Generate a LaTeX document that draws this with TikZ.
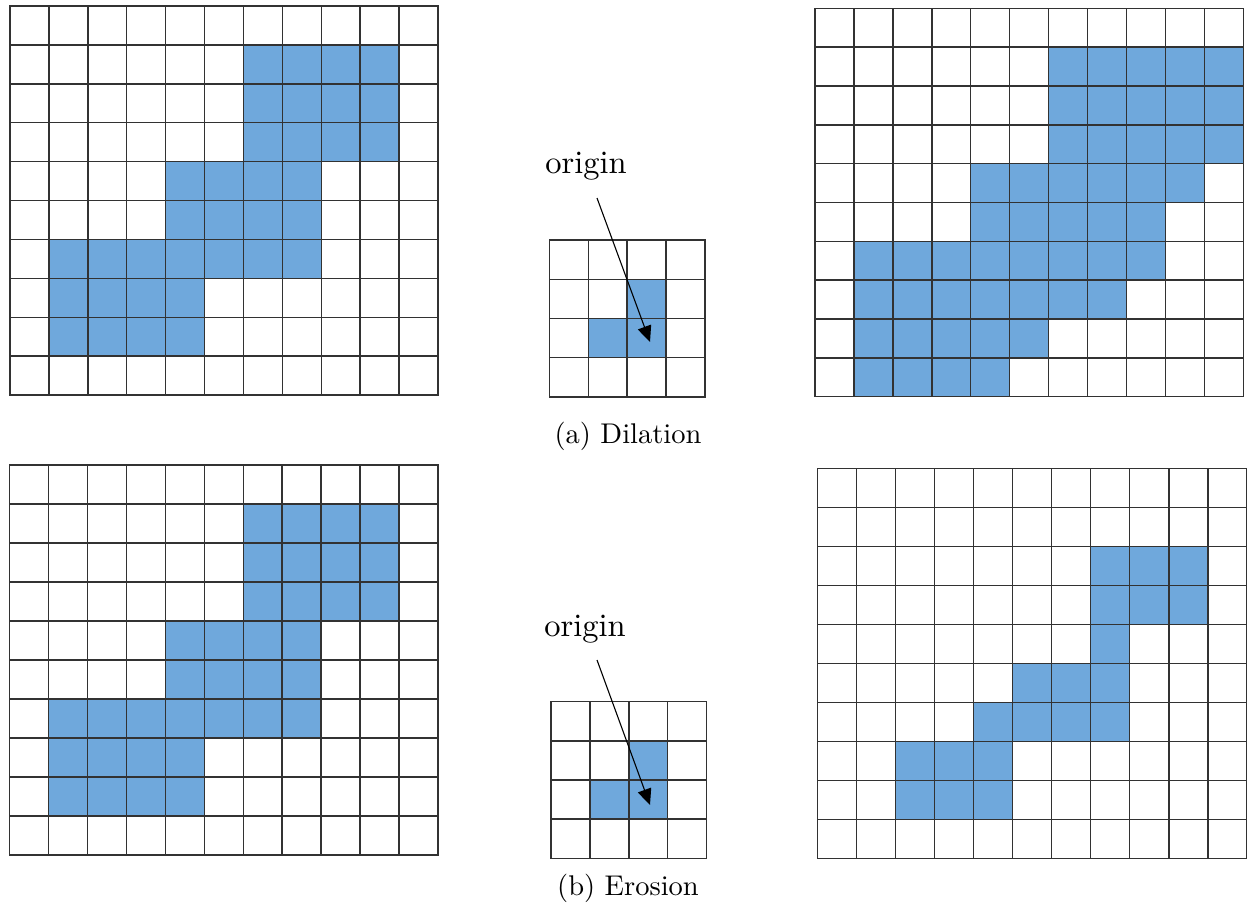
\documentclass[tikz,border=0pt]{standalone}
\usetikzlibrary{arrows.meta}
\definecolor{cellblue}{RGB}{111,168,220}
\definecolor{gridgray}{RGB}{50,50,50}
\newcommand\cellgrid[2]{%
  \foreach \i in {0,...,#1} \draw[gridline] (\i,0) -- (\i,#2);
  \foreach \j in {0,...,#2} \draw[gridline] (0,\j) -- (#1,\j);}
\begin{document}
\begin{tikzpicture}[x=1pt,y=-1pt,
  gridline/.style={draw=gridgray,line width=1.4pt,line cap=rect},
  cell/.style={fill=cellblue},
  origintext/.style={anchor=base,inner sep=0pt},
  captext/.style={anchor=base,inner sep=0pt},
  arr/.style={draw=black,line width=1.1pt,-{Triangle[length=16pt,width=14pt]}}]
\fill[white] (0,0) rectangle (1247,913);
\useasboundingbox (0,0) rectangle (1247,913);

% ---------- (a) Dilation ----------
\begin{scope}[shift={(10,6)},x=38.9pt,y=-38.9pt]
  \fill[cell] (6,1) rectangle (10,4) (4,4) rectangle (8,7) (1,6) rectangle (5,9);
  \cellgrid{11}{10}
\end{scope}
\begin{scope}[shift={(549.3,240)},x=38.9pt,y=-39.2pt]
  \fill[cell] (2,1) rectangle (3,2) (1,2) rectangle (3,3);
  \cellgrid{4}{4}
\end{scope}
\begin{scope}[shift={(815,8.3)},x=38.94pt,y=-38.84pt]
  \fill[cell] (6,1) rectangle (11,4) (4,4) rectangle (10,5) (4,5) rectangle (9,6)
              (1,6) rectangle (9,7) (1,7) rectangle (8,8) (1,8) rectangle (6,9)
              (1,9) rectangle (5,10);
  \cellgrid{11}{10}
\end{scope}
\node[origintext] (origa) at (586,173.3) {\scalebox{3.25}{origin}};
\coordinate (arrowa-start) at (597,198);
\coordinate (arrowa-tip) at (650,342);
\draw[arr] (arrowa-start) -- (arrowa-tip);
\node[captext] (capa) at (628,443) {\scalebox{2.85}{(a) Dilation}};

% ---------- (b) Erosion ----------
\begin{scope}[shift={(9.5,465)},x=38.95pt,y=-39pt]
  \fill[cell] (6,1) rectangle (10,4) (4,4) rectangle (8,7) (1,6) rectangle (5,9);
  \cellgrid{11}{10}
\end{scope}
\begin{scope}[shift={(551,701.7)},x=38.9pt,y=-39.15pt]
  \fill[cell] (2,1) rectangle (3,2) (1,2) rectangle (3,3);
  \cellgrid{4}{4}
\end{scope}
\begin{scope}[shift={(817.3,468.3)},x=39.06pt,y=-39pt]
  \fill[cell] (7,2) rectangle (10,4) (7,4) rectangle (8,5) (5,5) rectangle (8,6)
              (4,6) rectangle (8,7) (2,7) rectangle (5,9);
  \cellgrid{11}{10}
\end{scope}
\node[origintext] (origb) at (585,636) {\scalebox{3.25}{origin}};
\coordinate (arrowb-start) at (597,660);
\coordinate (arrowb-tip) at (650,805);
\draw[arr] (arrowb-start) -- (arrowb-tip);
\node[captext] (capb) at (628,895) {\scalebox{2.85}{(b) Erosion}};
\end{tikzpicture}
\end{document}
